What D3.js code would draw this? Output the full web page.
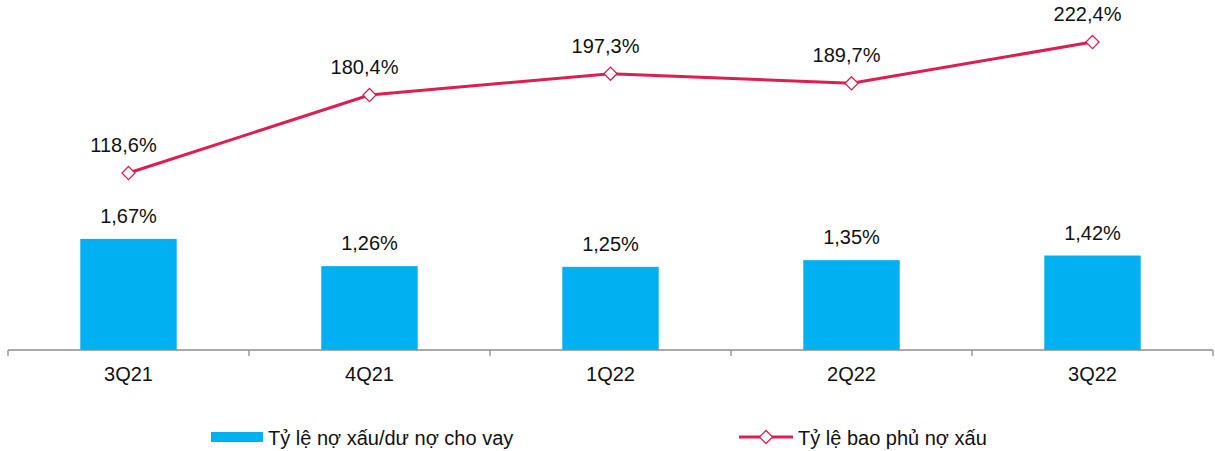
<!DOCTYPE html>
<html>
<head>
    <meta charset="utf-8">
    <title>Nợ xấu</title>
    <script src="https://d3js.org/d3.v7.min.js"></script>
    <style>
        html, body { margin: 0; background: #fff; }
        svg { display: block; font-family: Arial, "Liberation Sans", sans-serif; }
        .lbl { font-size: 20px; fill: #111; }
    </style>
</head>
<body>
    <svg width="1215" height="451"></svg>
    <script>
        // data
        const quarters = ["3Q21", "4Q21", "1Q22", "2Q22", "3Q22"];
        const nplRatio = [1.67, 1.26, 1.25, 1.35, 1.42];
        const coverage = [118.6, 180.4, 197.3, 189.7, 222.4];
        const seriesNames = ["Tỷ lệ nợ xấu/dư nợ cho vay", "Tỷ lệ bao phủ nợ xấu"];

        const fmt = (v, d) => v.toFixed(d).replace(".", ",") + "%";

        const barColor = "#00B0F0";
        const lineColor = "#DC1E50";

        const svg = d3.select("svg");
        const left = 8, right = 1213, base = 350;

        const x = d3.scaleBand().domain(quarters).range([left, right]).paddingInner(0.6).paddingOuter(0.3);
        const yBar = d3.scaleLinear().domain([0, 5.26]).range([base, 0]);
        const yLine = d3.scaleLinear().domain([-21.6, 255.7]).range([base, 0]);
        const cx = d => x(d) + x.bandwidth() / 2;

        // bars
        svg.append("g").selectAll("rect")
            .data(quarters)
            .join("rect")
            .attr("x", d => x(d))
            .attr("width", x.bandwidth())
            .attr("y", (d, i) => yBar(nplRatio[i]))
            .attr("height", (d, i) => base - yBar(nplRatio[i]))
            .attr("fill", barColor);

        svg.append("g").selectAll("text")
            .data(quarters)
            .join("text")
            .attr("class", "lbl")
            .attr("text-anchor", "middle")
            .attr("x", d => cx(d))
            .attr("y", (d, i) => yBar(nplRatio[i]) - 16)
            .text((d, i) => fmt(nplRatio[i], 2));

        // axis
        const step = (right - left) / quarters.length;
        const ax = svg.append("g").attr("stroke", "#8c8c8c").attr("stroke-width", 1.3);
        ax.append("line").attr("x1", left).attr("x2", right).attr("y1", base).attr("y2", base);
        ax.selectAll(".tk")
            .data(d3.range(quarters.length + 1))
            .join("line")
            .attr("x1", i => left + i * step).attr("x2", i => left + i * step)
            .attr("y1", base).attr("y2", base + 6);

        svg.append("g").selectAll("text")
            .data(quarters)
            .join("text")
            .attr("class", "lbl")
            .attr("text-anchor", "middle")
            .attr("x", d => cx(d))
            .attr("y", 381)
            .text(d => d);

        // line
        const line = d3.line()
            .x((d, i) => cx(quarters[i]))
            .y(d => yLine(d));

        svg.append("path")
            .datum(coverage)
            .attr("d", line)
            .attr("fill", "none")
            .attr("stroke", lineColor)
            .attr("stroke-width", 3);

        const diamond = d3.symbol().type(d3.symbolDiamond2).size(110);
        svg.append("g").selectAll("path")
            .data(coverage)
            .join("path")
            .attr("d", diamond)
            .attr("transform", (d, i) => `translate(${cx(quarters[i])},${yLine(d)})`)
            .attr("fill", "#fff")
            .attr("stroke", lineColor)
            .attr("stroke-width", 1.3);

        svg.append("g").selectAll("text")
            .data(coverage)
            .join("text")
            .attr("class", "lbl")
            .attr("text-anchor", "middle")
            .attr("x", (d, i) => cx(quarters[i]) - 5)
            .attr("y", d => yLine(d) - 21)
            .text(d => fmt(d, 1));

        // legend
        const lg = svg.append("g");
        lg.append("rect").attr("x", 211).attr("y", 432).attr("width", 52).attr("height", 10).attr("fill", barColor);
        lg.append("text").attr("class", "lbl").attr("x", 268).attr("y", 445).text(seriesNames[0]);

        lg.append("line").attr("x1", 739).attr("x2", 793).attr("y1", 437).attr("y2", 437)
            .attr("stroke", lineColor).attr("stroke-width", 3);
        lg.append("path").attr("d", diamond)
            .attr("transform", "translate(766,437)")
            .attr("fill", "#fff").attr("stroke", lineColor).attr("stroke-width", 1.3);
        lg.append("text").attr("class", "lbl").attr("x", 798).attr("y", 445).text(seriesNames[1]);
    </script>
</body>
</html>
